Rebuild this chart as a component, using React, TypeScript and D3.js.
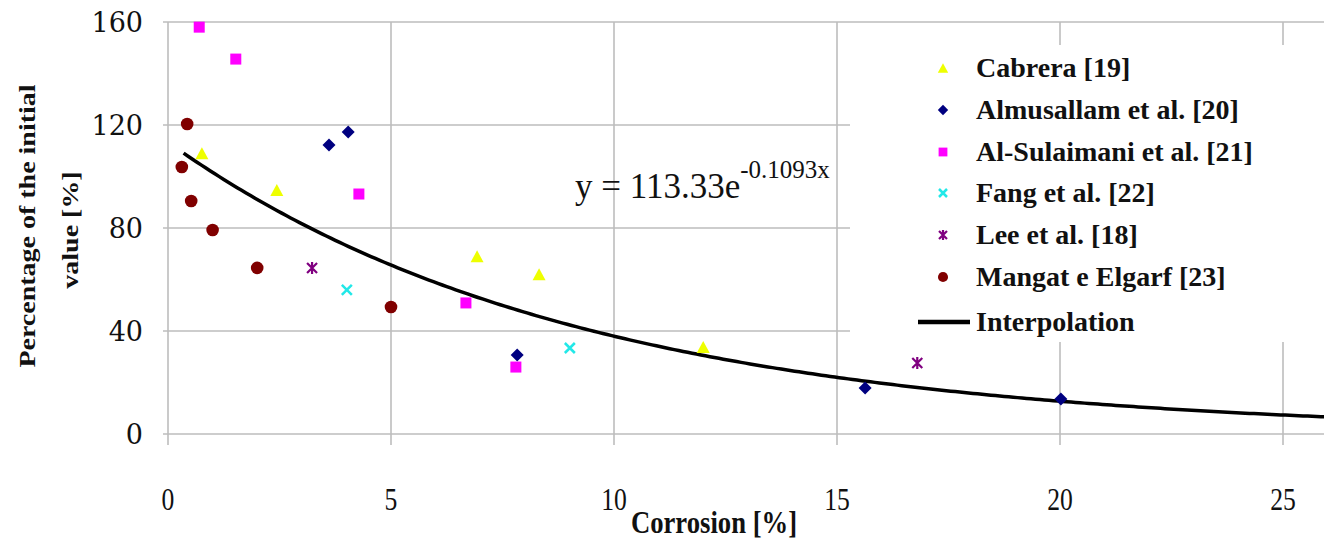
import React from "react";
import * as d3 from "d3";

const W = 1324;
const H = 543;

// ---- data ----
const xTicks = [0, 5, 10, 15, 20, 25];
const yTicks = [0, 40, 80, 120, 160];

const cabreraX = [0.76, 2.44, 6.93, 8.32, 12.0];
const cabreraY = [109, 94.8, 69, 62, 33.8];

const almusallamX = [3.61, 4.04, 7.83, 15.63, 20.02];
const almusallamY = [112.2, 117.3, 30.7, 17.9, 13.6];

const sulaimaniX = [0.7, 1.52, 4.28, 6.68, 7.8];
const sulaimaniY = [158, 145.6, 93.2, 50.9, 26];

const fangX = [4.01, 9.01];
const fangY = [56, 33.4];

const leeX = [3.23, 16.8];
const leeY = [64.5, 27.6];

const mangatX = [0.43, 0.31, 0.52, 1.0, 2.0, 5.0];
const mangatY = [120.4, 103.7, 90.5, 79.2, 64.5, 49.3];

const seriesNames = [
  "Cabrera [19]",
  "Almusallam et al. [20]",
  "Al-Sulaimani et al. [21]",
  "Fang et al. [22]",
  "Lee et al. [18]",
  "Mangat e Elgarf [23]",
];
const seriesColors = ["#EEFF00", "#000080", "#FF00FF", "#22E8E8", "#800080", "#800000"];
const seriesShapes = ["triangle", "diamond", "square", "x", "star", "circle"];

// trendline shown in chart: y = 113.33 e^(-0.1093 x)
const fitA = 113.33;
const fitB = -0.1093;
const fitStart = 0.35;
const fitEnd = 26.2;

const serif = "'Liberation Serif', 'Times New Roman', serif";
const wideSerif = "'DejaVu Serif', serif";

function Marker({ shape, cx, cy, color, s = 1 }: { shape: string; cx: number; cy: number; color: string; s?: number }) {
  switch (shape) {
    case "triangle": {
      const h = 12 * s, w = 13 * s;
      return <path d={`M${cx},${cy - h / 2} L${cx + w / 2},${cy + h / 2} L${cx - w / 2},${cy + h / 2} Z`} fill={color} />;
    }
    case "diamond": {
      const r = 6.5 * s;
      return <path d={`M${cx},${cy - r} L${cx + r},${cy} L${cx},${cy + r} L${cx - r},${cy} Z`} fill={color} />;
    }
    case "square": {
      const a = 11 * s;
      return <rect x={cx - a / 2} y={cy - a / 2} width={a} height={a} fill={color} />;
    }
    case "x": {
      const r = 5 * s;
      return (
        <path d={`M${cx - r},${cy - r} L${cx + r},${cy + r} M${cx - r},${cy + r} L${cx + r},${cy - r}`} stroke={color} strokeWidth={2.5} />
      );
    }
    case "star": {
      const r = 5 * s;
      return (
        <path
          d={`M${cx - r},${cy - r} L${cx + r},${cy + r} M${cx - r},${cy + r} L${cx + r},${cy - r} M${cx},${cy - r - 1} L${cx},${cy + r + 1}`}
          stroke={color}
          strokeWidth={2.2}
        />
      );
    }
    default:
      return <circle cx={cx} cy={cy} r={6.3 * s} fill={color} />;
  }
}

export default function App() {
  const x = d3.scaleLinear().domain([0, 25]).range([168, 1283]);
  const y = d3.scaleLinear().domain([0, 160]).range([434, 22]);

  const seriesX = [cabreraX, almusallamX, sulaimaniX, fangX, leeX, mangatX];
  const seriesY = [cabreraY, almusallamY, sulaimaniY, fangY, leeY, mangatY];

  const fitPts: [number, number][] = d3
    .range(fitStart, fitEnd, 0.1)
    .map((v) => [v, fitA * Math.exp(fitB * v)] as [number, number]);
  const line = d3
    .line<[number, number]>()
    .x((d) => x(d[0]))
    .y((d) => y(d[1]));

  const grid = "#bdbdbd";
  const legendRows = [68, 110, 152, 193, 235, 277];

  return (
    <svg width={W} height={H} style={{ position: "absolute", left: 0, top: 0, background: "#fff" }}>
      <rect x={0} y={0} width={W} height={H} fill="#fff" />
      {/* horizontal gridlines */}
      {yTicks.map((t) => (
        <line key={"h" + t} x1={163} x2={W} y1={y(t)} y2={y(t)} stroke={grid} strokeWidth={1.6} />
      ))}
      {/* vertical gridlines */}
      {xTicks.map((t) => (
        <line key={"v" + t} x1={x(t)} x2={x(t)} y1={y(160)} y2={445} stroke={grid} strokeWidth={1.6} />
      ))}
      {/* y tick labels */}
      {yTicks.map((t) => (
        <text key={"yl" + t} x={143} y={y(t) + 10} textAnchor="end" fontFamily={wideSerif} fontSize={27} fill="#111">
          {t}
        </text>
      ))}
      {/* x tick labels */}
      {xTicks.map((t) => (
        <text
          key={"xl" + t}
          transform={`translate(${x(t)},510) scale(0.8,1)`}
          textAnchor="middle"
          fontFamily={serif}
          fontSize={32}
          fill="#111"
        >
          {t}
        </text>
      ))}
      {/* axis titles */}
      <text transform="translate(714,533) scale(0.86,1)" textAnchor="middle" fontFamily={serif} fontWeight="bold" fontSize={31} fill="#111">
        Corrosion [%]
      </text>
      <g transform="translate(0,226) rotate(-90)">
        <text transform="translate(0,35) scale(1,0.85)" textAnchor="middle" fontFamily={serif} fontWeight="bold" fontSize={28} fill="#111">
          Percentage of the initial
        </text>
        <text transform="translate(-4,78) scale(1,0.85)" textAnchor="middle" fontFamily={serif} fontWeight="bold" fontSize={28} fill="#111">
          value [%]
        </text>
      </g>

      {/* legend background */}
      <rect x={850} y={45} width={W - 850} height={297} fill="#fff" />

      {/* equation */}
      <text x={575} y={198} fontFamily={serif} fontSize={35} fill="#111">
        y = 113.33e
        <tspan dy={-20} fontSize={25}>
          -0.1093x
        </tspan>
      </text>

      {/* fitted curve */}
      <path d={line(fitPts) || ""} fill="none" stroke="#000" strokeWidth={3.5} />

      {/* points */}
      {seriesX.map((xs, si) =>
        xs.map((v, i) => (
          <Marker key={`p${si}-${i}`} shape={seriesShapes[si]} cx={x(v)} cy={y(seriesY[si][i])} color={seriesColors[si]} />
        ))
      )}

      {/* legend */}
      {seriesNames.map((n, i) => (
        <g key={"lg" + i}>
          <Marker shape={seriesShapes[i]} cx={943} cy={legendRows[i]} color={seriesColors[i]} s={0.8} />
          <text x={976} y={legendRows[i] + 9} fontFamily={serif} fontWeight="bold" fontSize={28} fill="#111">
            {n}
          </text>
        </g>
      ))}
      <line x1={918} x2={970} y1={322} y2={322} stroke="#000" strokeWidth={4.5} />
      <text x={976} y={331} fontFamily={serif} fontWeight="bold" fontSize={28} fill="#111">
        Interpolation
      </text>
    </svg>
  );
}
